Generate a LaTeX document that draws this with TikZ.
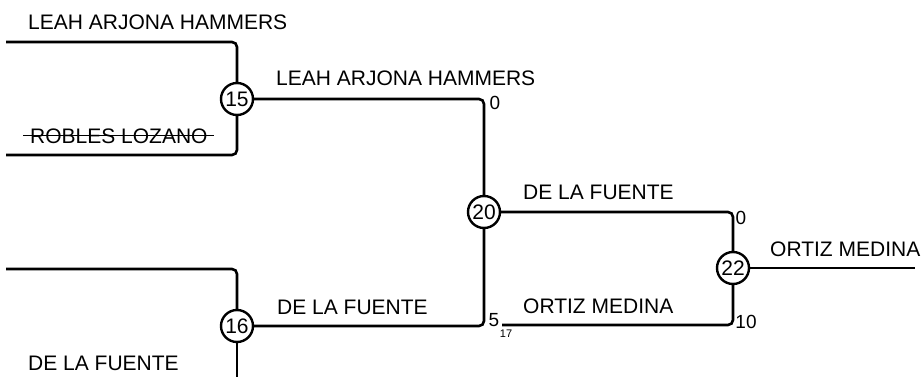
\documentclass[tikz,border=0pt]{standalone}
\usepackage{fontspec}
\setmainfont{Liberation Sans}
\usetikzlibrary{positioning}
\usetikzlibrary{calc}

\begin{document}
\begin{tikzpicture}[
    x=1pt, y=-1pt,
    match/.style={draw, circle, line width=2.4pt, minimum size=32pt, inner sep=0pt, fill=white, font=\fontsize{21}{21}\selectfont},
    team/.style={anchor=base west, inner sep=0pt, font=\fontsize{21}{25}\selectfont},
    score/.style={inner sep=0pt, font=\fontsize{19}{19}\selectfont},
    link/.style={line width=2.6pt, rounded corners=5pt}
]
    \useasboundingbox (0,0) rectangle (921,377);

    % free ends of the bracket lines
    \coordinate (in1) at (6,42);
    \coordinate (in2) at (6,155);
    \coordinate (in3) at (6,269);
    \coordinate (in4) at (237,377);
    \coordinate (sub17) at (502,325);
    \coordinate (champ) at (915,268);

    % matches
    \node[match] (m15) at (237,99) {15};
    \node[match] (m16) at (237,326) {16};
    \node[match] (m20) at (484,212) {20};
    \node[match] (m22) at (733,268) {22};

    % connectors
    \draw[link] (in1) -| (m15);
    \draw[link] (in2) -| (m15);
    \draw[link] (in3) -| (m16);
    \draw[link] (m16) -- (in4);
    \draw[link] (m15) -| (m20);
    \draw[link] (m16) -| (m20);
    \draw[link] (m20) -| (m22);
    \draw[link] (sub17) -| (m22);
    \draw[link] (m22) -- (champ);

    % team names
    \node[team] (lah1) at (28,30) {LEAH ARJONA HAMMERS};
    \node[team] (rob) at (30,143) {ROBLES LOZANO};
    \draw[line width=1.3pt] ([xshift=-7pt]rob.west) -- ([xshift=6pt]rob.east);
    \node[team] (lah2) at (276,86) {LEAH ARJONA HAMMERS};
    \node[team] (fue1) at (28,370) {DE LA FUENTE};
    \node[team] (fue2) at (277,314) {DE LA FUENTE};
    \node[team] (fue3) at (523,199) {DE LA FUENTE};
    \node[team] (ort1) at (523,313) {ORTIZ MEDINA};
    \node[team] (ort2) at (770,256) {ORTIZ MEDINA};

    % scores
    \node[score] (s15) at (495,103) {0};
    \node[score] (s16) at (494,320) {5};
    \node[inner sep=0pt, font=\fontsize{11}{11}\selectfont] (p16) at (506,334) {17};
    \node[score] (s20) at (741,218) {0};
    \node[score] (s21) at (746,322) {10};
\end{tikzpicture}
\end{document}
